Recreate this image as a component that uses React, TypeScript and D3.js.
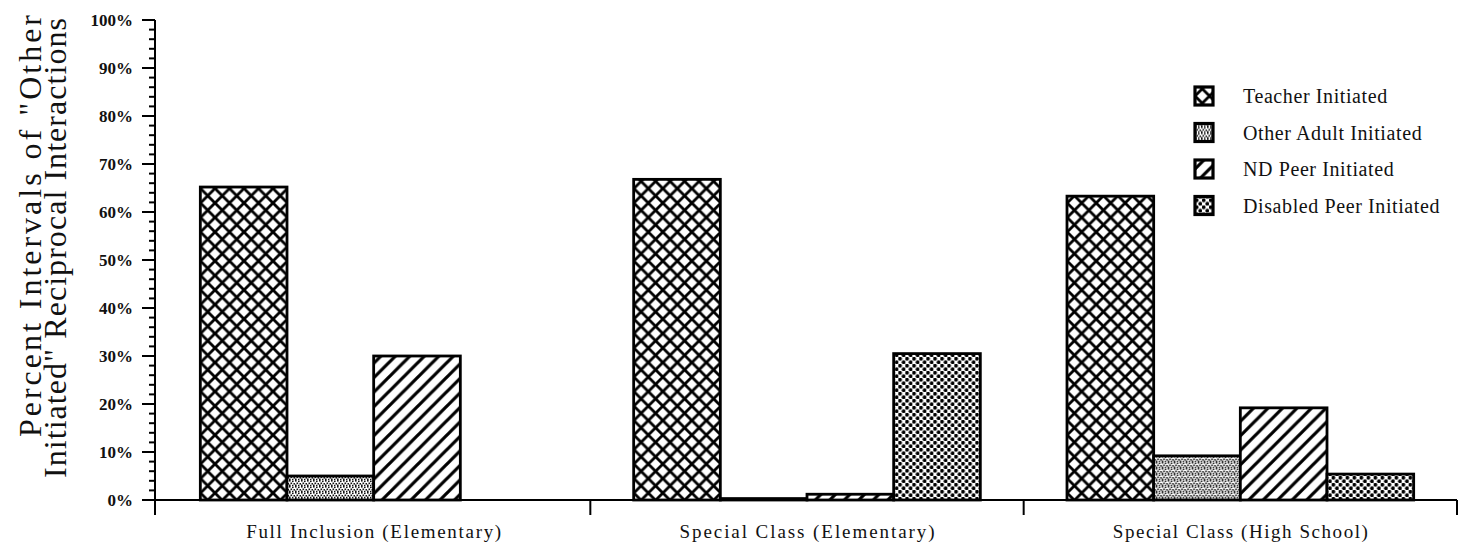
import React from 'react';
import * as d3 from 'd3';

// chart data
const categories = [
  'Full Inclusion (Elementary)',
  'Special Class (Elementary)',
  'Special Class (High School)',
];
const seriesNames = [
  'Teacher Initiated',
  'Other Adult Initiated',
  'ND Peer Initiated',
  'Disabled Peer Initiated',
];
const teacherInitiated = [65.2, 66.8, 63.3];
const otherAdultInitiated = [5.0, 0.3, 9.2];
const ndPeerInitiated = [30.0, 1.2, 19.2];
const disabledPeerInitiated = [0, 30.5, 5.4];
const yTickValues = [0, 10, 20, 30, 40, 50, 60, 70, 80, 90, 100];

const seriesValues = [teacherInitiated, otherAdultInitiated, ndPeerInitiated, disabledPeerInitiated];
const patternIds = ['pat-cross', 'pat-stipple', 'pat-stripe', 'pat-dots'];

const width = 1459;
const height = 552;
const marginLeft = 157;
const marginRight = 2;
const plotTop = 20;
const plotBottom = 500;

const serif = '"Liberation Serif", "DejaVu Serif", serif';

const Patterns: React.FC = () => (
  <defs>
    <pattern id="pat-cross" patternUnits="userSpaceOnUse" width={14.5} height={14.5} x={0} y={0}>
      <rect width={14.5} height={14.5} fill="#fff" />
      <path d="M0,0L14.5,14.5M14.5,0L0,14.5" stroke="#000" strokeWidth={2.8} />
    </pattern>
    <pattern id="pat-stipple" patternUnits="userSpaceOnUse" width={6} height={6}>
      <rect width={6} height={6} fill="#fff" />
      <rect x={0} y={0} width={1.6} height={1.6} fill="#111" />
      <rect x={3} y={0.5} width={1.6} height={1.6} fill="#111" />
      <rect x={1.5} y={2.5} width={1.6} height={1.6} fill="#111" />
      <rect x={4.5} y={3} width={1.6} height={1.6} fill="#111" />
      <rect x={0} y={4.5} width={1.6} height={1.6} fill="#111" />
      <rect x={3} y={4.8} width={1.4} height={1.2} fill="#111" />
    </pattern>
    <pattern id="pat-stripe" patternUnits="userSpaceOnUse" width={14.5} height={14.5}>
      <rect width={14.5} height={14.5} fill="#fff" />
      <path d="M-2,16.5L16.5,-2M-2,2L2,-2M12.5,16.5L16.5,12.5" stroke="#000" strokeWidth={3.2} />
    </pattern>
    <pattern id="pat-dots" patternUnits="userSpaceOnUse" width={7} height={7}>
      <rect width={7} height={7} fill="#fff" />
      <circle cx={1.75} cy={1.75} r={1.9} fill="#000" />
      <circle cx={5.25} cy={5.25} r={1.9} fill="#000" />
    </pattern>
  </defs>
);

const App: React.FC = () => {
  const x0 = d3.scaleBand<string>()
    .domain(categories)
    .range([marginLeft, width - marginRight])
    .paddingInner(0)
    .paddingOuter(0);

  const x1 = d3.scaleBand<string>()
    .domain(seriesNames)
    .range([0, x0.bandwidth()])
    .paddingInner(0)
    .paddingOuter(0.5);

  const y = d3.scaleLinear()
    .domain([0, 100])
    .range([plotBottom, plotTop]);

  const minorTicks = d3.range(0, 101, 2);

  return (
    <svg width={width} height={height} style={{ position: 'absolute', left: 0, top: 0, background: '#fff' }}>
      <Patterns />
      <rect width={width} height={height} fill="#fff" />

      {/* y axis title, two rotated lines */}
      <g fontFamily={serif} fontSize={32} fill="#111">
        <text transform={`translate(41,226) rotate(-90)`} textAnchor="middle" textLength={422} lengthAdjust="spacing">
          Percent Intervals of "Other
        </text>
        <text transform={`translate(66,248) rotate(-90)`} textAnchor="middle" textLength={460} lengthAdjust="spacing">
          Initiated" Reciprocal Interactions
        </text>
      </g>

      {/* bars */}
      {categories.map((cat, ci) => (
        <g key={cat} transform={`translate(${x0(cat)},0)`}>
          {seriesNames.map((s, si) => {
            const v = seriesValues[si][ci];
            if (!v) return null;
            return (
              <rect
                key={s}
                x={x1(s)}
                y={y(v)}
                width={x1.bandwidth()}
                height={y(0) - y(v)}
                fill={`url(#${patternIds[si]})`}
                stroke="#000"
                strokeWidth={2.8}
              />
            );
          })}
        </g>
      ))}

      {/* y axis */}
      <g stroke="#000" strokeWidth={2}>
        <line x1={marginLeft - 2} x2={marginLeft - 2} y1={y(100)} y2={y(0) + 15} />
        {minorTicks.map(t => (
          <line key={`m${t}`} x1={marginLeft - 8} x2={marginLeft - 2} y1={y(t)} y2={y(t)} />
        ))}
        {yTickValues.map(t => (
          <line key={`M${t}`} x1={marginLeft - 15} x2={marginLeft - 2} y1={y(t)} y2={y(t)} />
        ))}
      </g>
      <g fontFamily={serif} fontSize={17} fontWeight="bold" fill="#111" textAnchor="end">
        {yTickValues.map(t => (
          <text key={t} x={marginLeft - 24} y={y(t)} dy="0.35em">{`${t}%`}</text>
        ))}
      </g>

      {/* x axis */}
      <g stroke="#000" strokeWidth={2}>
        <line x1={marginLeft - 2} x2={width - marginRight} y1={y(0)} y2={y(0)} />
        {categories.map(cat => (
          <line key={cat} x1={(x0(cat) || 0) + x0.bandwidth()} x2={(x0(cat) || 0) + x0.bandwidth()} y1={y(0)} y2={y(0) + 15} />
        ))}
      </g>
      <g fontFamily={serif} fontSize={19} fill="#111" textAnchor="middle">
        {categories.map(cat => (
          <text key={cat} x={(x0(cat) || 0) + x0.bandwidth() / 2} y={538} textLength={255} lengthAdjust="spacing">{cat}</text>
        ))}
      </g>

      {/* legend */}
      <g fontFamily={serif} fontSize={20} fill="#111" letterSpacing={0.6}>
        {seriesNames.map((s, i) => (
          <g key={s} transform={`translate(1195,${96 + i * 36.5})`}>
            <rect x={0} y={-9} width={18} height={18} fill={`url(#${patternIds[i]})`} stroke="#000" strokeWidth={3.2} />
            <text x={48} y={0} dy="0.35em">{s}</text>
          </g>
        ))}
      </g>
    </svg>
  );
};

export default App;
